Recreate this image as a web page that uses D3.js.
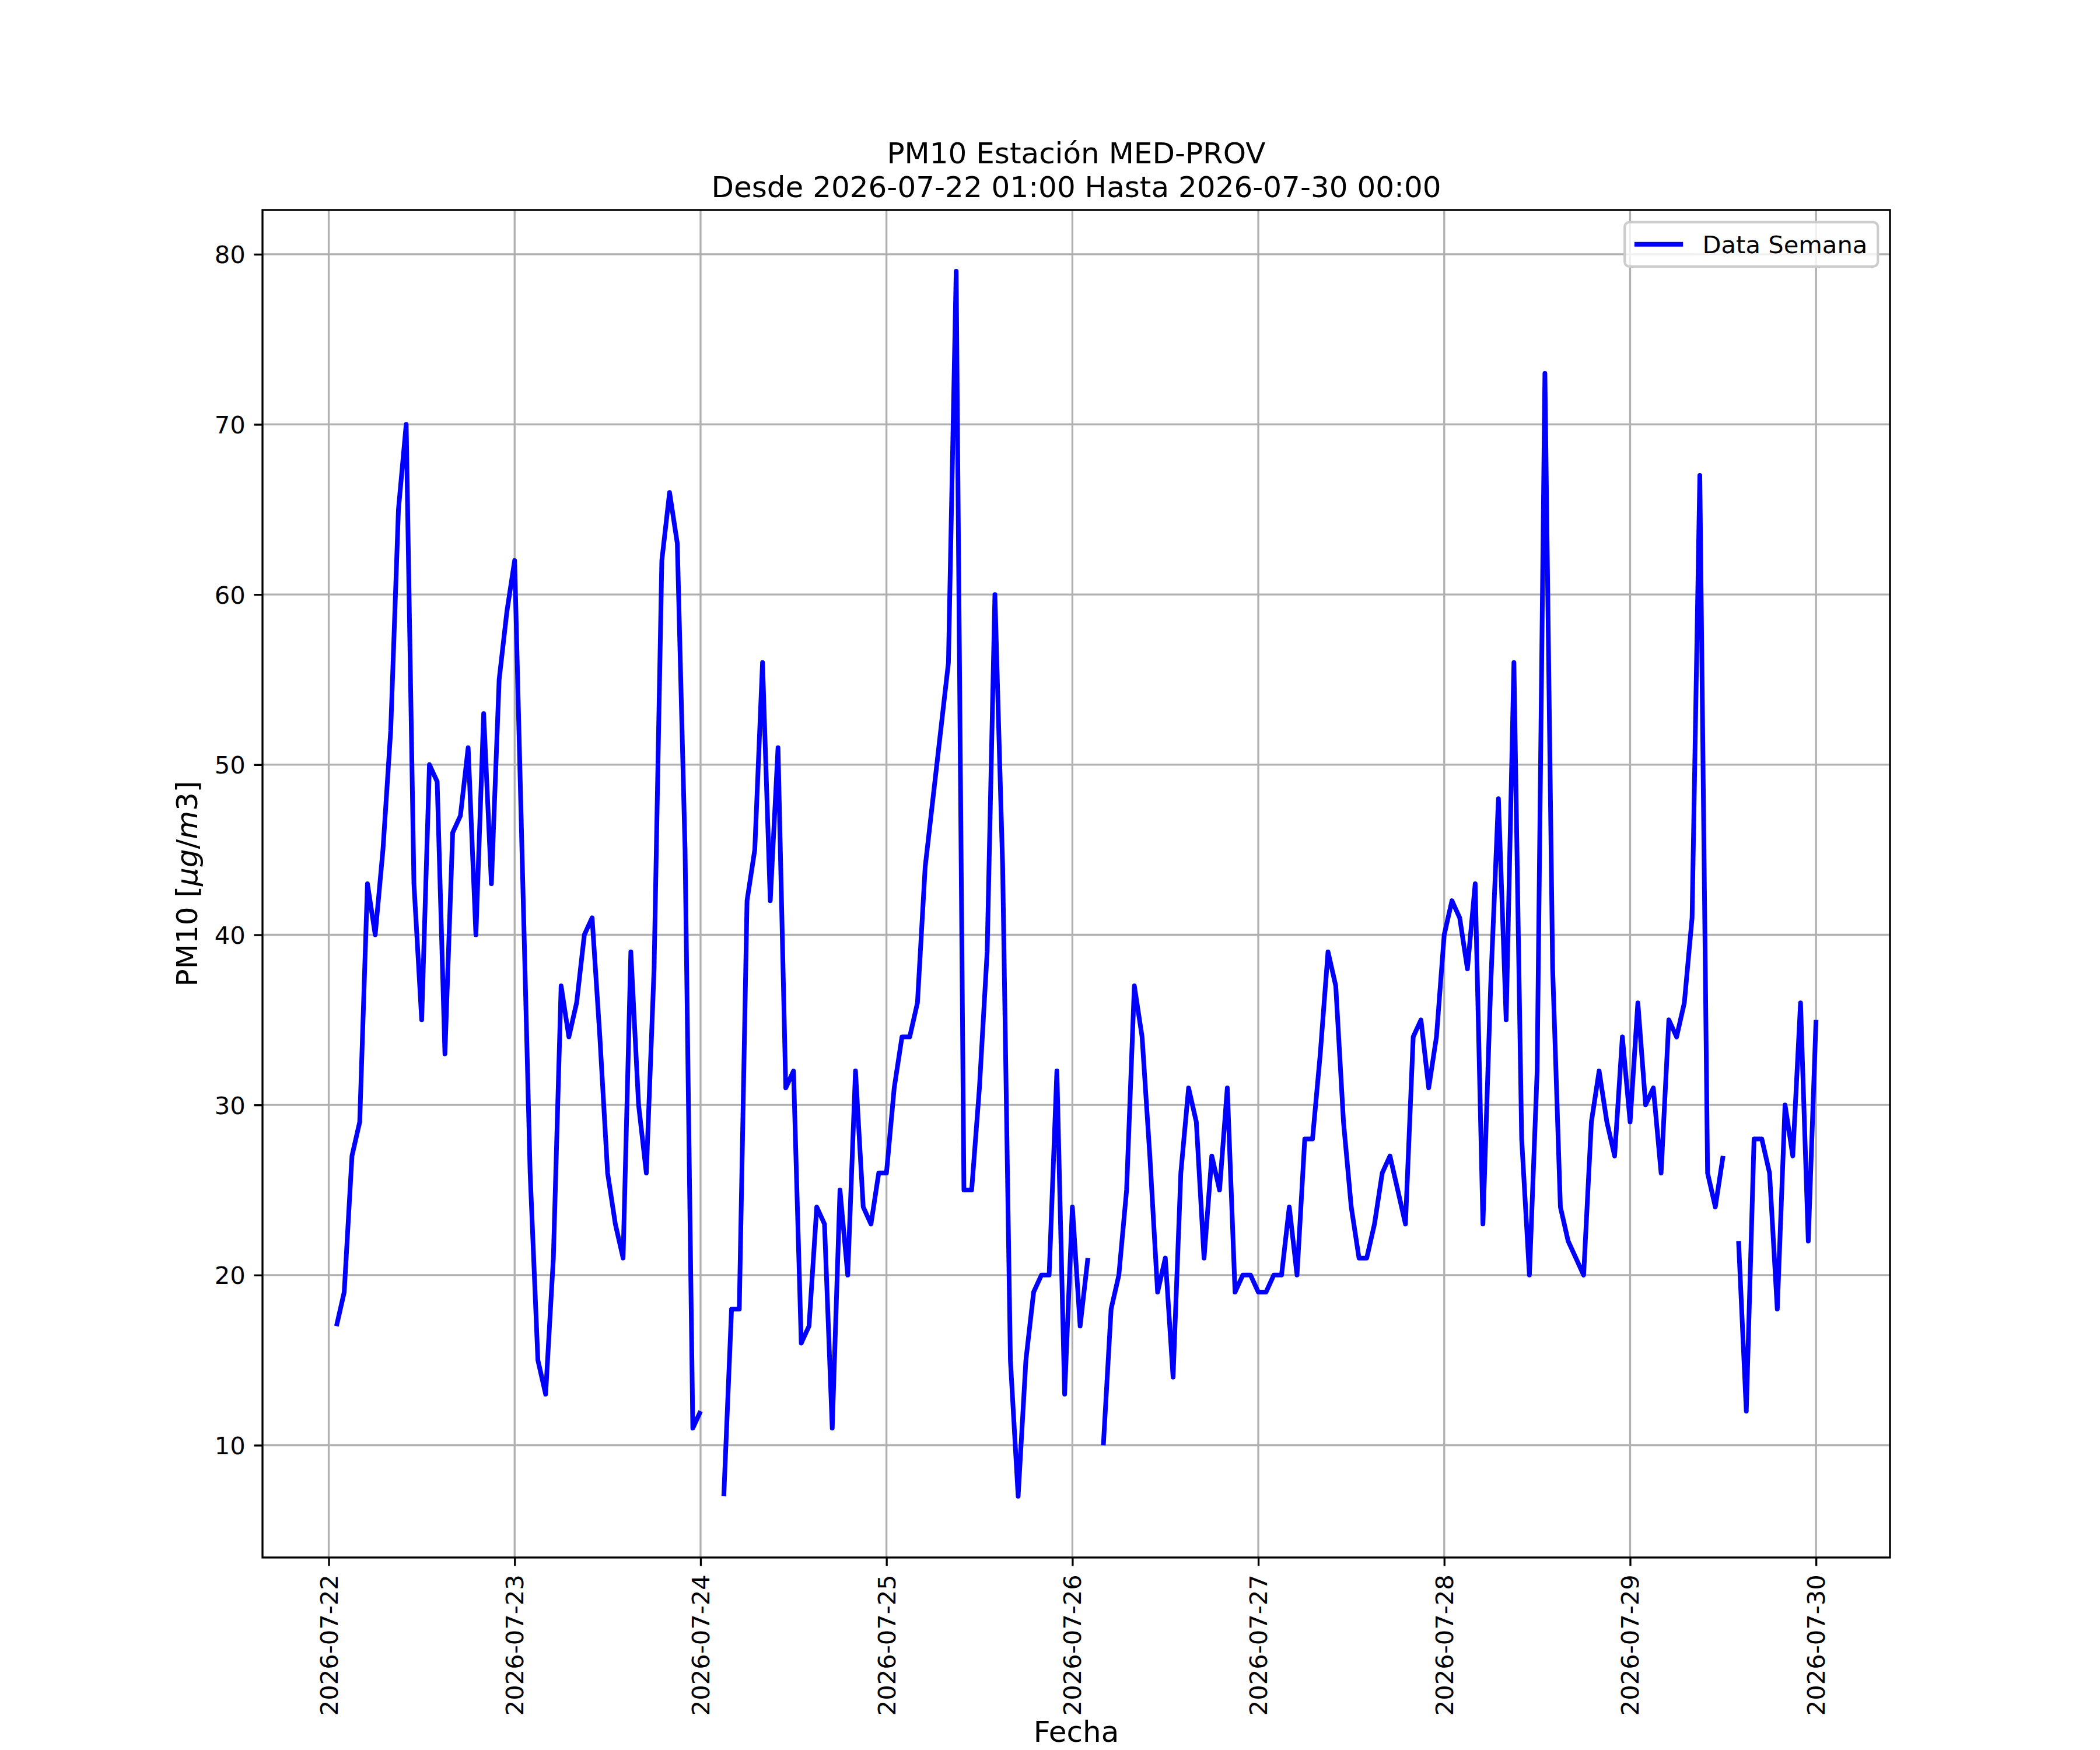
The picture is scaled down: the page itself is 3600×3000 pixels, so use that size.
<!DOCTYPE html>
<html>
  <head>
    <meta charset="utf-8" />
    <script src="https://d3js.org/d3.v7.min.js"></script>
    <title>PM10 MED-PROV</title>
    <style>
      body { margin: 0; background: #fff; }
      text { font-family: "DejaVu Sans", sans-serif; fill: #000; }
    </style>
  </head>
  <body>
    <svg id="chart" width="3600" height="3000"></svg>
    <script>

      // hourly PM10 readings, one array per day (null = no reading)
      var startTime = "2026-07-22T01:00:00Z";
      var day22 = [17, 19, 27, 29, 43, 40, 45, 52, 65, 70, 43, 35, 50, 49, 33, 46, 47, 51, 40, 53, 43, 55, 59];
      var day23 = [62, 44, 26, 15, 13, 21, 37, 34, 36, 40, 41, 34, 26, 23, 21, 39, 30, 26, 38, 62, 66, 63, 45, 11];
      var day24 = [12, null, null, 7, 18, 18, 42, 45, 56, 42, 51, 31, 32, 16, 17, 24, 23, 11, 25, 20, 32, 24, 23, 26];
      var day25 = [26, 31, 34, 34, 36, 44, 48, 52, 56, 79, 25, 25, 31, 39, 60, 44, 15, 7, 15, 19, 20, 20, 32, 13];
      var day26 = [24, 17, 21, null, 10, 18, 20, 25, 37, 34, 27, 19, 21, 14, 26, 31, 29, 21, 27, 25, 31, 19, 20, 20];
      var day27 = [19, 19, 20, 20, 24, 20, 28, 28, 33, 39, 37, 29, 24, 21, 21, 23, 26, 27, 25, 23, 34, 35, 31, 34];
      var day28 = [40, 42, 41, 38, 43, 23, 37, 48, 35, 56, 28, 20, 32, 73, 38, 24, 22, 21, 20, 29, 32, 29, 27, 34];
      var day29 = [29, 36, 30, 31, 26, 35, 34, 36, 41, 67, 26, 24, 27, null, 22, 12, 28, 28, 26, 18, 30, 27, 36, 22];
      var day30 = [35];

      var yTicks = [10, 20, 30, 40, 50, 60, 70, 80];
      var dayTicks = ["2026-07-22", "2026-07-23", "2026-07-24", "2026-07-25", "2026-07-26",
                      "2026-07-27", "2026-07-28", "2026-07-29", "2026-07-30"];

      var titleLines = ["PM10 Estación MED-PROV", "Desde 2026-07-22 01:00 Hasta 2026-07-30 00:00"];
      var seriesName = "Data Semana";

      var values = [].concat(day22, day23, day24, day25, day26, day27, day28, day29, day30);
      var t0 = new Date(startTime);
      var data = values.map(function(v, i) {
        return { t: d3.utcHour.offset(t0, i), v: v };
      });

      // figure geometry (12x10 in at 300 dpi, matplotlib default subplot box)
      var pt = 300 / 72;
      var axL = 450, axR = 3240, axT = 360, axB = 2670;

      var svg = d3.select("#chart");

      var tExt = d3.extent(data, function(d) { return d.t; });
      var tPad = (tExt[1] - tExt[0]) * 0.05;
      var x = d3.scaleUtc()
        .domain([new Date(+tExt[0] - tPad), new Date(+tExt[1] + tPad)])
        .range([axL, axR]);

      var vExt = d3.extent(data, function(d) { return d.v; });
      var vPad = (vExt[1] - vExt[0]) * 0.05;
      var y = d3.scaleLinear()
        .domain([vExt[0] - vPad, vExt[1] + vPad])
        .range([axB, axT]);

      var parseDay = d3.utcParse("%Y-%m-%d");
      var tickDates = dayTicks.map(parseDay);

      // grid
      var grid = svg.append("g").attr("class", "grid")
        .attr("stroke", "#b0b0b0").attr("stroke-width", 0.8 * pt);
      grid.selectAll(".vg").data(tickDates).enter().append("line")
        .attr("x1", function(d) { return x(d); }).attr("x2", function(d) { return x(d); })
        .attr("y1", axT).attr("y2", axB);
      grid.selectAll(".hg").data(yTicks).enter().append("line")
        .attr("y1", function(d) { return y(d); }).attr("y2", function(d) { return y(d); })
        .attr("x1", axL).attr("x2", axR);

      // the series
      var line = d3.line()
        .defined(function(d) { return d.v != null; })
        .x(function(d) { return x(d.t); })
        .y(function(d) { return y(d.v); });

      svg.append("path")
        .datum(data)
        .attr("d", line)
        .attr("fill", "none")
        .attr("stroke", "#0000ff")
        .attr("stroke-width", 8)
        .attr("stroke-linejoin", "round")
        .attr("stroke-linecap", "butt");

      // axes
      var fontTick = 10 * pt;
      var xAxis = d3.axisBottom(x)
        .tickValues(tickDates)
        .tickFormat(d3.utcFormat("%Y-%m-%d"))
        .tickSize(3.5 * pt)
        .tickPadding(3.5 * pt);
      var gx = svg.append("g")
        .attr("transform", "translate(0," + axB + ")")
        .call(xAxis);
      gx.select(".domain").remove();
      gx.selectAll(".tick line").attr("stroke", "#000").attr("stroke-width", 0.8 * pt);
      gx.selectAll(".tick text")
        .attr("font-size", fontTick)
        .attr("font-family", "DejaVu Sans")
        .attr("fill", "#000")
        .attr("y", 0).attr("dy", null)
        .attr("text-anchor", "end")
        .attr("dominant-baseline", "central")
        .attr("transform", "translate(0," + (7 * pt) + ") rotate(-90)");

      var yAxis = d3.axisLeft(y)
        .tickValues(yTicks)
        .tickSize(3.5 * pt)
        .tickPadding(3.5 * pt);
      var gy = svg.append("g")
        .attr("transform", "translate(" + axL + ",0)")
        .call(yAxis);
      gy.select(".domain").remove();
      gy.selectAll(".tick line").attr("stroke", "#000").attr("stroke-width", 0.8 * pt);
      gy.selectAll(".tick text")
        .attr("font-size", fontTick)
        .attr("font-family", "DejaVu Sans")
        .attr("fill", "#000")
        .attr("dy", "0.36em");

      // frame
      svg.append("rect")
        .attr("x", axL).attr("y", axT)
        .attr("width", axR - axL).attr("height", axB - axT)
        .attr("fill", "none").attr("stroke", "#000").attr("stroke-width", 0.8 * pt);

      // title
      var fontBig = 12 * pt;
      svg.append("g").selectAll("text").data(titleLines).enter().append("text")
        .attr("x", (axL + axR) / 2)
        .attr("y", function(d, i) { return 280 + i * 58; })
        .attr("text-anchor", "middle")
        .attr("font-size", fontBig)
        .text(function(d) { return d; });

      // axis labels
      svg.append("text")
        .attr("x", (axL + axR) / 2).attr("y", 2986)
        .attr("text-anchor", "middle")
        .attr("font-size", fontBig)
        .text("Fecha");

      var yl = svg.append("text")
        .attr("transform", "translate(321," + ((axT + axB) / 2) + ") rotate(-90)")
        .attr("text-anchor", "middle")
        .attr("dominant-baseline", "central")
        .attr("font-size", fontBig);
      yl.append("tspan").text("PM10 [");
      yl.append("tspan").attr("font-style", "italic").text("μg");
      yl.append("tspan").text("/");
      yl.append("tspan").attr("font-style", "italic").text("m");
      yl.append("tspan").text("3]");

      // legend
      var lg = svg.append("g");
      var lgRight = axR - 0.5 * fontTick, lgTop = axT + 0.5 * fontTick;
      var lgW = 434, lgH = 76;
      lg.append("rect")
        .attr("x", lgRight - lgW).attr("y", lgTop)
        .attr("width", lgW).attr("height", lgH)
        .attr("rx", 8).attr("ry", 8)
        .attr("fill", "#fff").attr("fill-opacity", 0.8)
        .attr("stroke", "#cccccc").attr("stroke-width", 1 * pt);
      var lgMid = lgTop + lgH / 2;
      var lgX0 = lgRight - lgW + 0.4 * fontTick;
      lg.append("line")
        .attr("x1", lgX0).attr("x2", lgX0 + 2 * fontTick)
        .attr("y1", lgMid).attr("y2", lgMid)
        .attr("stroke", "#0000ff").attr("stroke-width", 8);
      lg.append("text")
        .attr("x", lgX0 + 2.8 * fontTick)
        .attr("y", lgMid)
        .attr("dy", "0.36em")
        .attr("font-size", fontTick)
        .text(seriesName);

    </script>
  </body>
</html>
